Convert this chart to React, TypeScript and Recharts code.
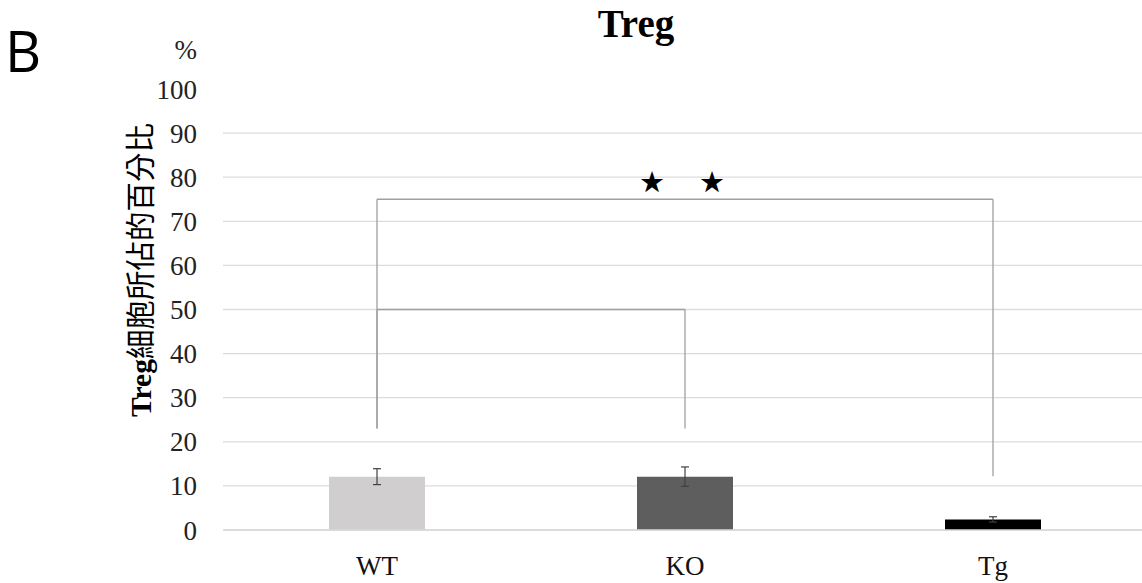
import React from 'react';
import {
  BarChart,
  Bar,
  XAxis,
  YAxis,
  CartesianGrid,
  ErrorBar,
  ReferenceLine,
  ReferenceDot,
  Cell,
} from 'recharts';

const categories = ['WT', 'KO', 'Tg'];
const means = [12.1, 12.1, 2.4];
const errors = [1.8, 2.2, 0.6];
const barColors = ['#d0cece', '#5e5e5e', '#000000'];
const yTicks = [0, 10, 20, 30, 40, 50, 60, 70, 80, 90, 100];
const gridValues = [0, 10, 20, 30, 40, 50, 60, 70, 80, 90];

// significance brackets
const bracketFrom = ['WT', 'WT'];
const bracketTo = ['Tg', 'KO'];
const bracketTop = [75, 50];
const bracketFromBase = [23, 23];
const bracketToBase = [12.2, 23];
const starCategory = 'KO';
const starValue = 79;

const data = categories.map((c, i) => ({ name: c, value: means[i], err: errors[i] }));

const SERIF = '"Liberation Serif", "Times New Roman", serif';
const CJK = '"Noto Sans CJK TC", "Noto Sans CJK SC", sans-serif';

const YLabel = (props: any) => {
  const vb = props.viewBox || { x: 0, y: 0, width: 0, height: 0 };
  const cx = vb.x + 151;
  const cy = 270;
  return (
    <text
      x={cx}
      y={cy}
      transform={`rotate(-90, ${cx}, ${cy})`}
      textAnchor="middle"
      fill="#000"
      fontSize={29.5}
    >
      <tspan fontFamily={SERIF} fontWeight="bold">Treg</tspan>
      <tspan fontFamily={CJK}>細胞所佔的百分比</tspan>
    </text>
  );
};

const Stars = (props: any) => {
  const { cx, cy } = props;
  if (cx == null || cy == null) return null;
  return (
    <g>
      <text x={cx - 33} y={cy} textAnchor="middle" dominantBaseline="central" fontSize={29} fontFamily="DejaVu Sans" fill="#000">★</text>
      <text x={cx + 27} y={cy} textAnchor="middle" dominantBaseline="central" fontSize={29} fontFamily="DejaVu Sans" fill="#000">★</text>
    </g>
  );
};

export default function App() {
  return (
    <div style={{ position: 'absolute', left: 0, top: 0, width: 1142, height: 583, overflow: 'hidden', background: '#fff' }}>
      <div style={{ position: 'absolute', left: 5, top: 22, fontFamily: '"Open Sans", sans-serif', fontSize: 56, lineHeight: '56px', color: '#000' }}>B</div>
      <div style={{ position: 'absolute', left: 0, width: 1272, top: 4, textAlign: 'center', fontFamily: SERIF, fontWeight: 'bold', fontSize: 39, lineHeight: '39px', color: '#000' }}>Treg</div>
      <div style={{ position: 'absolute', left: 0, width: 197, top: 37, textAlign: 'right', fontFamily: SERIF, fontSize: 27, lineHeight: '27px', color: '#222' }}>%</div>
      <div style={{ position: 'absolute', left: 0, top: 0 }}>
        <BarChart width={1160} height={583} data={data} margin={{ top: 89, right: 13, bottom: 13, left: 0 }}>
          <CartesianGrid vertical={false} horizontalValues={gridValues} stroke="#dcdcdc" strokeWidth={1.3} />
          <XAxis
            dataKey="name"
            height={40}
            axisLine={{ stroke: '#d9d9d9', strokeWidth: 1.3 }}
            tickLine={false}
            tickSize={0}
            tickMargin={26}
            tick={{ fontFamily: SERIF, fontSize: 27, fill: '#111' }}
            interval={0}
          />
          <YAxis
            width={223}
            domain={[0, 100]}
            ticks={yTicks}
            interval={0}
            axisLine={false}
            tickLine={false}
            tickSize={0}
            tickMargin={26}
            tick={{ fontFamily: SERIF, fontSize: 27, fill: '#222' }}
            label={<YLabel />}
          />
          <Bar dataKey="value" barSize={96} isAnimationActive={false}>
            {data.map((d, i) => (
              <Cell key={d.name} fill={barColors[i]} />
            ))}
            <ErrorBar dataKey="err" width={4} stroke="#404040" strokeWidth={1.2} />
          </Bar>
          {bracketFrom.map((f, i) => (
            <ReferenceLine
              key={`l${i}`}
              segment={[{ x: f, y: bracketFromBase[i] }, { x: f, y: bracketTop[i] }]}
              stroke="#a0a0a0"
              strokeWidth={1.3}
              ifOverflow="visible"
            />
          ))}
          {bracketFrom.map((f, i) => (
            <ReferenceLine
              key={`h${i}`}
              segment={[{ x: f, y: bracketTop[i] }, { x: bracketTo[i], y: bracketTop[i] }]}
              stroke="#a0a0a0"
              strokeWidth={1.3}
              ifOverflow="visible"
            />
          ))}
          {bracketTo.map((t, i) => (
            <ReferenceLine
              key={`r${i}`}
              segment={[{ x: t, y: bracketToBase[i] }, { x: t, y: bracketTop[i] }]}
              stroke="#a0a0a0"
              strokeWidth={1.3}
              ifOverflow="visible"
            />
          ))}
          <ReferenceDot x={starCategory} y={starValue} r={0} shape={<Stars />} ifOverflow="visible" />
        </BarChart>
      </div>
    </div>
  );
}
